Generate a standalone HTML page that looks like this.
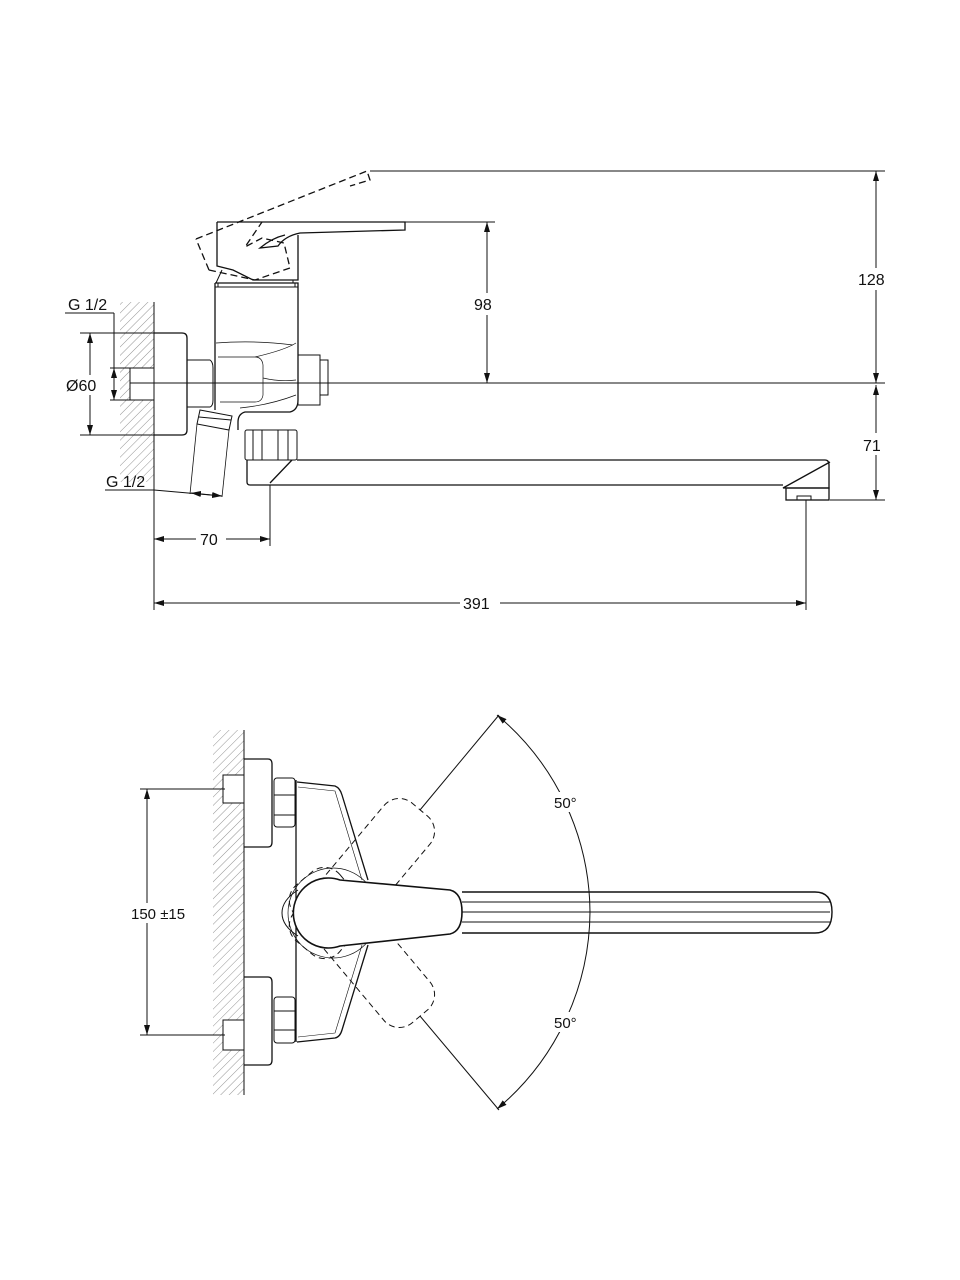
<!DOCTYPE html>
<html><head><meta charset="utf-8"><style>
html,body{margin:0;padding:0;background:#fff}
svg{display:block}
text{font-family:"Liberation Sans",sans-serif;font-size:16px;fill:#111}
</style></head><body>
<svg width="960" height="1280" viewBox="0 0 960 1280" xmlns="http://www.w3.org/2000/svg">
<defs>
<pattern id="h" width="6" height="6" patternUnits="userSpaceOnUse" patternTransform="rotate(45)">
<line x1="0" y1="0" x2="0" y2="6" stroke="#777" stroke-width="0.8"/>
</pattern>
<marker id="a" viewBox="0 0 10 6" refX="10" refY="3" markerWidth="10" markerHeight="6" orient="auto-start-reverse" markerUnits="userSpaceOnUse">
<path d="M0,0 L10,3 L0,6 z" fill="#111"/>
</marker>
</defs>

<g fill="none" stroke="#111" stroke-width="1">
<!-- ===== TOP VIEW ===== -->
<rect x="120" y="302" width="34" height="180" fill="url(#h)" stroke="none"/>
<line x1="154" y1="302" x2="154" y2="610"/>
<rect x="130" y="368" width="24" height="32" fill="#fff"/>
<path d="M154,333 H182 Q187,333 187,338 V430 Q187,435 182,435 H154" stroke-width="1.3"/>
<path d="M187,360 H210 Q213,362 213,368 V400 Q213,406 210,407 H187 Z"/>
<line x1="187" y1="383" x2="213" y2="383"/>
<path d="M215,283 H298 V400 Q298,410 290,412 H245 Q238,414 238,422 V430 M215,283 V410" stroke-width="1.3"/>
<line x1="218" y1="283" x2="218" y2="287"/><line x1="295" y1="283" x2="295" y2="287"/>
<line x1="215" y1="287" x2="298" y2="287"/>
<path d="M216,343 Q255,340 293,345 M218,357 H255 Q262,357 263,365 V395 Q262,402 255,402 H220 M255,357 Q285,350 296,343 M263,378 Q280,382 296,380 M240,408 Q270,405 296,395" stroke-width="0.7"/>
<path d="M217,222 H405 V230 L300,233 Q285,236 278,246 L260,248 Q272,238 285,235 M217,222 V266 L233,270 L253,280 H298 V235" stroke-width="1.3"/>
<path d="M222,270 L216,283 M293,280 V283"/>
<path d="M196,239 L367,171 L370,180 L350,186 M209,270 L196,239 M209,270 L255,280 L290,268 L284,243 L262,238 L245,247 L262,222" stroke-dasharray="7,4" stroke-width="1.3"/>
<rect x="298" y="355" width="22" height="50"/>
<rect x="320" y="360" width="8" height="35"/>
<path d="M200,410 L232,416 L229,430 L197,424 Z"/>
<line x1="199" y1="417" x2="231" y2="420"/>
<line x1="197" y1="424" x2="190" y2="494" stroke-width="0.8"/>
<line x1="229" y1="430" x2="222" y2="497" stroke-width="0.8"/>
<rect x="245" y="430" width="52" height="30" rx="2"/>
<line x1="253" y1="430" x2="253" y2="460"/><line x1="262" y1="430" x2="262" y2="460"/>
<line x1="278" y1="430" x2="278" y2="460"/><line x1="288" y1="430" x2="288" y2="460"/>
<path d="M247,460 V482 Q247,485 250,485 H783 M270,483 L292,460 M297,460 H825 Q829,460 829,465 V488 H783 L830,462" stroke-width="1.3"/>
<rect x="786" y="488" width="43" height="12" stroke-width="1.3"/>
<rect x="797" y="496" width="14" height="4"/>
<line x1="130" y1="383" x2="885" y2="383"/>
<line x1="370" y1="171" x2="885" y2="171"/>
<line x1="876" y1="171" x2="876" y2="383" marker-start="url(#a)" marker-end="url(#a)"/>
<line x1="876" y1="385" x2="876" y2="500" marker-start="url(#a)" marker-end="url(#a)"/>
<line x1="830" y1="500" x2="885" y2="500"/>
<line x1="405" y1="222" x2="495" y2="222"/>
<line x1="487" y1="222" x2="487" y2="383" marker-start="url(#a)" marker-end="url(#a)"/>
<line x1="806" y1="500" x2="806" y2="610"/>
<line x1="270" y1="485" x2="270" y2="546"/>
<line x1="154" y1="539" x2="270" y2="539" marker-start="url(#a)" marker-end="url(#a)"/>
<line x1="154" y1="603" x2="806" y2="603" marker-start="url(#a)" marker-end="url(#a)"/>
<line x1="80" y1="333" x2="154" y2="333"/><line x1="80" y1="435" x2="154" y2="435"/>
<line x1="90" y1="333" x2="90" y2="435" marker-start="url(#a)" marker-end="url(#a)"/>
<line x1="114" y1="313" x2="114" y2="400"/>
<line x1="65" y1="313" x2="114" y2="313"/>
<line x1="110" y1="368" x2="130" y2="368"/><line x1="110" y1="400" x2="130" y2="400"/>
<line x1="114" y1="368" x2="114" y2="400" marker-start="url(#a)" marker-end="url(#a)"/>
<line x1="105" y1="490" x2="154" y2="490"/>
<line x1="154" y1="490" x2="222" y2="496"/>
<line x1="191" y1="493" x2="222" y2="496" marker-start="url(#a)" marker-end="url(#a)"/>

<!-- ===== BOTTOM VIEW ===== -->
<rect x="213" y="730" width="31" height="365" fill="url(#h)" stroke="none"/>
<line x1="244" y1="730" x2="244" y2="1095"/>
<rect x="223" y="775" width="21" height="28" fill="#fff"/>
<rect x="223" y="1020" width="21" height="30" fill="#fff"/>
<path d="M244,759 H268 Q272,759 272,764 V842 Q272,847 268,847 H244" stroke-width="1.3"/>
<path d="M244,977 H268 Q272,977 272,982 V1060 Q272,1065 268,1065 H244" stroke-width="1.3"/>
<rect x="274" y="778" width="21" height="49" rx="3"/>
<line x1="274" y1="795" x2="295" y2="795"/><line x1="274" y1="815" x2="295" y2="815"/>
<rect x="274" y="997" width="21" height="46" rx="3"/>
<line x1="274" y1="1011" x2="295" y2="1011"/><line x1="274" y1="1030" x2="295" y2="1030"/>
<line x1="296" y1="780" x2="296" y2="1042" stroke-width="1.3"/>
<path d="M297,782 L335,786 Q340,788 342,795 L368,880 M368,945 L342,1030 Q340,1037 335,1038 L297,1042" stroke-width="1.3"/>
<path d="M298,787 L335,791 L362,880 M362,945 L335,1033 L298,1037" stroke-width="0.6"/>
<path d="M298,890 Q282,900 282,913 Q282,926 298,936" stroke-width="1"/>
<circle cx="333" cy="913" r="45" stroke-width="0.7"/>
<g transform="translate(333 913) rotate(-50)" stroke-dasharray="6,4"><rect x="-45" y="-30" width="180" height="60" rx="20"/></g>
<g transform="translate(333 913) rotate(50)" stroke-dasharray="6,4"><rect x="-45" y="-30" width="180" height="60" rx="20"/></g>
<path d="M340,880 L450,890 Q462,893 462,912 Q462,931 450,934 L340,946 A35,35 0 1 1 340,880 Z" fill="#fff" stroke-width="1.6"/>
<path d="M462,892 H815 Q832,892 832,912 Q832,933 815,933 H462" stroke-width="1.4"/>
<line x1="462" y1="902" x2="830" y2="902"/>
<line x1="462" y1="912" x2="830" y2="912"/>
<line x1="462" y1="922" x2="830" y2="922"/>
<line x1="420" y1="810" x2="499" y2="715"/>
<line x1="420" y1="1016" x2="499" y2="1110"/>
<path d="M497,715 A259,259 0 0 1 590,912" marker-start="url(#a)"/>
<path d="M590,912 A259,259 0 0 1 497,1109" marker-end="url(#a)"/>
<line x1="140" y1="789" x2="225" y2="789"/>
<line x1="140" y1="1035" x2="225" y2="1035"/>
<line x1="147" y1="789" x2="147" y2="1035" marker-start="url(#a)" marker-end="url(#a)"/>
</g>

<rect x="860" y="268" width="32" height="22" fill="#fff"/>
<text x="858" y="285">128</text>
<rect x="472" y="293" width="30" height="22" fill="#fff"/>
<text x="474" y="310">98</text>
<rect x="860" y="433" width="28" height="22" fill="#fff"/>
<text x="863" y="451">71</text>
<rect x="196" y="530" width="30" height="20" fill="#fff"/>
<text x="200" y="545">70</text>
<rect x="460" y="593" width="40" height="20" fill="#fff"/>
<text x="463" y="609">391</text>
<text x="68" y="310">G 1/2</text>
<rect x="64" y="375" width="40" height="20" fill="#fff"/>
<text x="66" y="391">Ø60</text>
<text x="106" y="487">G 1/2</text>
<rect x="130" y="903" width="56" height="20" fill="#fff"/>
<text x="131" y="919" style="font-size:15px">150 ±15</text>
<rect x="553" y="792" width="30" height="20" fill="#fff"/>
<text x="554" y="808" style="font-size:15px">50°</text>
<rect x="553" y="1012" width="30" height="20" fill="#fff"/>
<text x="554" y="1028" style="font-size:15px">50°</text>
</svg>
</body></html>
